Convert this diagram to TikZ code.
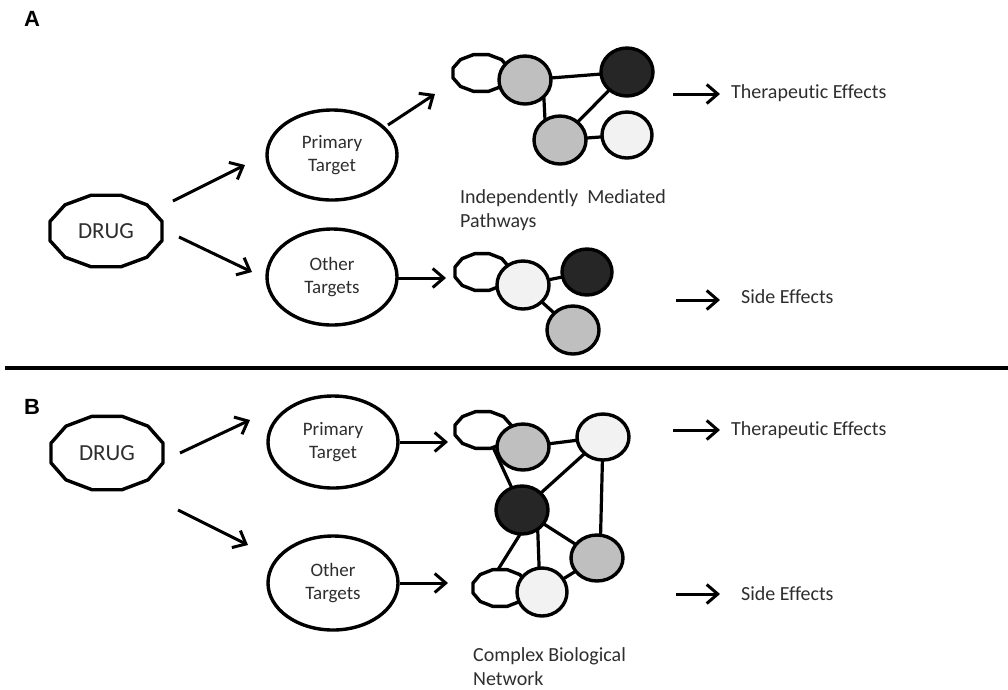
\documentclass[tikz,border=0pt]{standalone}
\usepackage{fontspec}
\setmainfont{Carlito}[Ligatures=NoCommon]
\newfontfamily\labfont{Liberation Sans}
\usetikzlibrary{arrows.meta,shapes.geometric,calc,backgrounds}
\definecolor{txt}{HTML}{2E2E2E}
\definecolor{cgray}{HTML}{BFBFBF}
\definecolor{cdark}{HTML}{262626}
\definecolor{clight}{HTML}{F2F2F2}
\newcommand\polyg[4]{\draw[#4] ($(#1)+(15:#2 and #3)$) \foreach \a in {45,75,...,345}{ -- ($(#1)+(\a:#2 and #3)$)} -- cycle;}
\tikzset{
  outl/.style={draw=black, line width=3.4pt, line join=round},
  tgt/.style={ellipse, outl, fill=white, inner sep=0pt, minimum width=130, align=center,
     font=\fontsize{19}{23}\selectfont, text=txt},
  net/.style={ellipse, outl, inner sep=0pt, minimum width=52, minimum height=48},
  anch/.style={inner sep=0pt, minimum size=0pt},
  edge/.style={line width=3.2pt},
  arr/.style={line width=3pt, -{Straight Barb[length=11pt,width=19pt]}},
  drugtxt/.style={font=\fontsize{23}{27}\selectfont, text=txt},
  lbl/.style={font=\fontsize{20}{24}\selectfont, text=txt, align=left, anchor=west, inner sep=0pt},
  panel/.style={font=\labfont\bfseries\fontsize{22}{24}\selectfont, inner sep=0pt}
}
\begin{document}
\begin{tikzpicture}[x=1pt,y=-1pt]
\useasboundingbox (0,0) rectangle (1008,689);
% panel labels and separator
\node[panel] (labA) at (32,19) {A};
\node[panel] (labB) at (32,407) {B};
\coordinate (sepL) at (5,368);
\coordinate (sepR) at (1008,368);
\draw[line width=4.5pt] (sepL) -- (sepR);

% ---------------- Panel A ----------------
\node[drugtxt] (drugA) at (106,231) {DRUG};
\polyg{drugA}{58}{37}{outl}
\node[tgt, minimum height=90] (primA) at (332,155) {Primary\\Target};
\node[tgt, minimum height=96] (othA) at (332,277) {Other\\Targets};

% network A top
\node[anch] (octA1) at (481,73) {};
\polyg{octA1}{29}{19}{outl, fill=white}
\node[net, fill=cgray] (gA1) at (525,80) {};
\node[net, fill=cdark] (dA) at (627,72) {};
\node[net, fill=cgray] (gA2) at (560,140) {};
\node[net, fill=clight, minimum width=50, minimum height=46] (lA) at (627,135) {};
\begin{scope}[on background layer]
\draw[edge] (gA1.center) -- (dA.center);
\draw[edge] ([xshift=18]gA1.center) -- ([xshift=-14]gA2.center);
\draw[edge] (dA.center) -- (gA2.center);
\draw[edge] (gA2.center) -- (lA.center);
\end{scope}
\node[lbl] (indep) at (460,210) {Independently\ \ Mediated\\Pathways};

% network A bottom
\node[anch] (octA2) at (482,272) {};
\polyg{octA2}{28}{19}{outl, fill=white}
\node[net, fill=clight] (lA2) at (523,285) {};
\node[net, fill=cdark, minimum width=50, minimum height=46] (dA2) at (587,272) {};
\node[net, fill=cgray] (gA3) at (573,330) {};
\begin{scope}[on background layer]
\draw[edge] (lA2.center) -- (dA2.center);
\draw[edge] (lA2.center) -- (gA3.center);
\end{scope}

\node[lbl] (thA) at (731,93) {Therapeutic Effects};
\node[lbl] (seA) at (741,297) {Side Effects};

% arrows A
\draw[arr] ([shift={(67,-30)}]drugA.center) -- ([shift={(-87,10)}]primA.center);
\draw[arr] ([shift={(73,6)}]drugA.center) -- ([shift={(-80,-5)}]othA.center);
\draw[arr] ([shift={(56,-30)}]primA.center) -- ([shift={(-46,21)}]octA1.center);
\draw[arr] ([shift={(66,1)}]othA.center) -- ([shift={(-36,6)}]octA2.center);
\draw[arr] ([shift={(-58,1)}]thA.west) -- ([shift={(-11,1)}]thA.west);
\draw[arr] ([shift={(-65,3)}]seA.west) -- ([shift={(-21,3)}]seA.west);

% ---------------- Panel B ----------------
\node[drugtxt] (drugB) at (107,453) {DRUG};
\polyg{drugB}{58}{38}{outl}
\node[tgt, minimum height=92] (primB) at (333,442) {Primary\\Target};
\node[tgt, minimum height=94] (othB) at (333,583) {Other\\Targets};

\node[anch] (octB1) at (483,430) {};
\polyg{octB1}{29}{19}{outl, fill=white}
\node[anch] (octB2) at (500,588) {};
\polyg{octB2}{28}{19}{outl, fill=white}
\node[net, fill=cgray, minimum height=46] (gB1) at (523,447) {};
\node[net, fill=clight, minimum height=46] (lB1) at (603,437) {};
\node[net, fill=cdark] (dB) at (522,510) {};
\node[net, fill=cgray, minimum height=46] (gB2) at (597,558) {};
\node[net, fill=clight, minimum width=50] (lB2) at (542,592) {};
\begin{scope}[on background layer]
\draw[edge] ([shift={(3,2)}]octB1.center) -- (dB.center);
\draw[edge] (gB1.center) -- (lB1.center);
\draw[edge] (lB1.center) -- (dB.center);
\draw[edge] (lB1.center) -- ([shift={(3,0)}]gB2.center);
\draw[edge] (dB.center) -- (gB2.center);
\draw[edge] ([shift={(2,18)}]dB.center) -- ([shift={(-6,-12)}]octB2.center);
\draw[edge] ([shift={(15,0)}]dB.center) -- ([shift={(-2,0)}]lB2.center);
\draw[edge] (gB2.center) -- (lB2.center);
\end{scope}
\node[lbl] (cbn) at (473,667) {Complex Biological\\Network};

\node[lbl] (thB) at (731,430) {Therapeutic Effects};
\node[lbl] (seB) at (741,594) {Side Effects};

% arrows B
\draw[arr] ([shift={(73,0)}]drugB.center) -- ([shift={(-83,-22)}]primB.center);
\draw[arr] ([shift={(71,57)}]drugB.center) -- ([shift={(-85,-38)}]othB.center);
\draw[arr] ([shift={(67,0)}]primB.center) -- ([shift={(-35,12)}]octB1.center);
\draw[arr] ([shift={(67,0)}]othB.center) -- ([shift={(-52,-5)}]octB2.center);
\draw[arr] ([shift={(-58,0)}]thB.west) -- ([shift={(-11,0)}]thB.west);
\draw[arr] ([shift={(-65,0)}]seB.west) -- ([shift={(-21,0)}]seB.west);
\end{tikzpicture}
\end{document}
